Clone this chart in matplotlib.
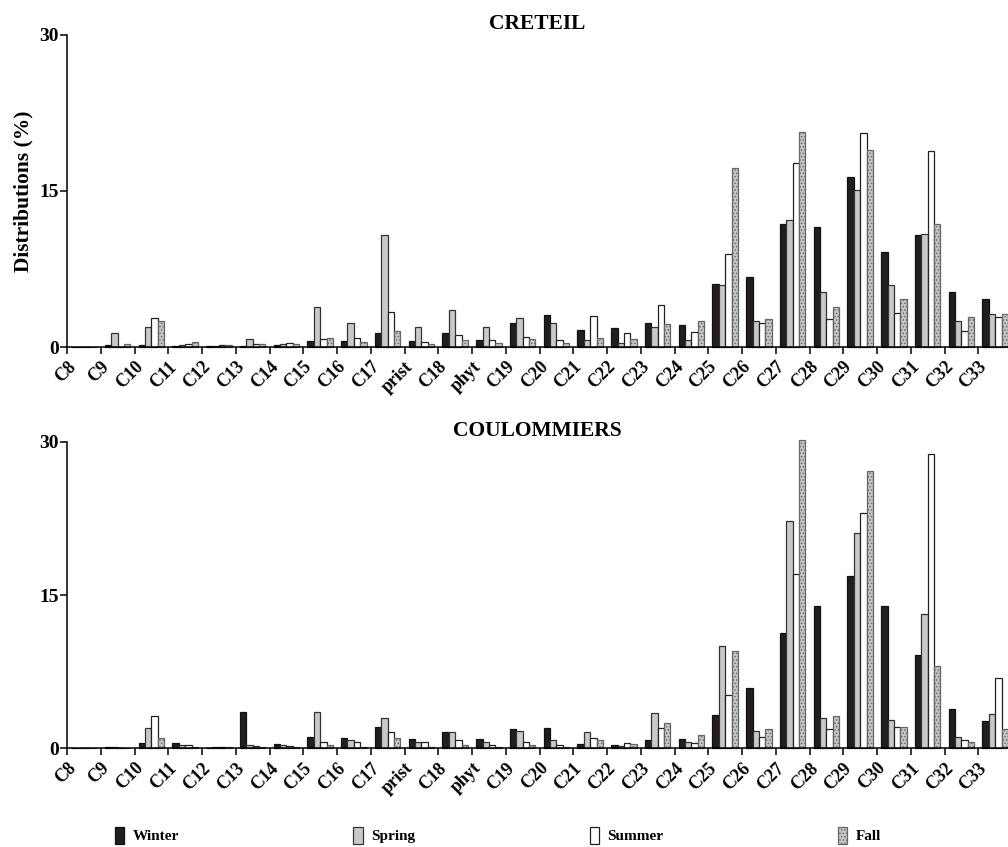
import matplotlib
matplotlib.use('Agg')
import matplotlib.pyplot as plt
from matplotlib.patches import Patch
import numpy as np

plt.rcParams['font.family'] = ['Liberation Serif', 'DejaVu Serif']
plt.rcParams['font.weight'] = 'bold'
plt.rcParams['hatch.linewidth'] = 0.6

categories = ['C8', 'C9', 'C10', 'C11', 'C12', 'C13', 'C14', 'C15', 'C16', 'C17',
              'prist', 'C18', 'phyt', 'C19', 'C20', 'C21', 'C22', 'C23', 'C24', 'C25',
              'C26', 'C27', 'C28', 'C29', 'C30', 'C31', 'C32', 'C33']
seasons = ['Winter', 'Spring', 'Summer', 'Fall']

# CRETEIL
creteil_winter = [0, 0.2, 0.2, 0.1, 0.1, 0.1, 0.2, 0.6, 0.6, 1.3, 0.6, 1.3, 0.7, 2.35,
                  3.1, 1.6, 1.85, 2.35, 2.1, 6.05, 6.7, 11.8, 11.5, 16.3, 9.1, 10.8, 5.25, 4.6]
creteil_spring = [0, 1.3, 1.9, 0.2, 0.1, 0.8, 0.3, 3.8, 2.35, 10.8, 1.9, 3.6, 1.9, 2.75,
                  2.35, 0.65, 0.4, 1.95, 0.65, 5.95, 2.5, 12.25, 5.25, 15.1, 5.95, 10.9, 2.5, 3.2]
creteil_summer = [0, 0, 2.8, 0.3, 0.2, 0.3, 0.4, 0.8, 0.9, 3.4, 0.5, 1.2, 0.65, 1.0,
                  0.65, 3.0, 1.3, 4.05, 1.45, 8.95, 2.35, 17.7, 2.65, 20.6, 3.3, 18.8, 1.55, 2.85]
creteil_fall = [0, 0.3, 2.5, 0.5, 0.2, 0.3, 0.3, 0.9, 0.5, 1.5, 0.25, 0.7, 0.4, 0.8,
                0.4, 0.85, 0.8, 2.25, 2.5, 17.2, 2.65, 20.7, 3.8, 18.9, 4.6, 11.8, 2.9, 3.15]

# COULOMMIERS
coul_winter = [0, 0.15, 0.55, 0.5, 0.05, 3.6, 0.4, 1.15, 1.05, 2.1, 0.9, 1.6, 0.9, 1.85,
               1.95, 0.4, 0.33, 0.8, 0.9, 3.25, 5.95, 11.25, 13.9, 16.9, 13.9, 9.1, 3.8, 2.65]
coul_spring = [0, 0.15, 1.95, 0.33, 0.1, 0.3, 0.3, 3.6, 0.8, 3.0, 0.65, 1.55, 0.65, 1.7,
               0.8, 1.55, 0.25, 3.5, 0.6, 10.0, 1.65, 22.2, 3.0, 21.1, 2.75, 13.1, 1.1, 3.35]
coul_summer = [0, 0, 3.2, 0.3, 0.1, 0.2, 0.2, 0.65, 0.65, 1.55, 0.6, 0.8, 0.33, 0.65,
               0.33, 1.0, 0.5, 1.95, 0.5, 5.2, 1.1, 17.1, 1.85, 23.0, 2.05, 28.8, 0.8, 6.85]
coul_fall = [0, 0, 1.0, 0.15, 0.1, 0.15, 0.15, 0.3, 0.15, 1.05, 0.15, 0.3, 0.15, 0.3,
             0.15, 0.8, 0.4, 2.5, 1.3, 9.55, 1.9, 30.2, 3.2, 27.1, 2.05, 8.1, 0.65, 1.9]

styles = [dict(facecolor='#221e1f', edgecolor='#111111'),
          dict(facecolor='#c9c9c9', edgecolor='#333333'),
          dict(facecolor='white', edgecolor='#222222'),
          dict(facecolor='#c4c4c4', edgecolor='#666666', hatch='.....')]


def draw_panel(ax, series, title):
    x = np.arange(len(categories))
    bw = 0.19
    for j, vals in enumerate(series):
        ax.bar(x + 0.12 + bw * (j + 0.5), vals, width=bw, linewidth=0.9,
               clip_on=False, **styles[j])
    ax.set_xlim(0, 27.88)
    ax.set_ylim(0, 30)
    ax.set_yticks([0, 15, 30])
    ax.set_xticks(x)
    ax.set_xticklabels(categories, rotation=45, ha='right', va='top',
                       rotation_mode='anchor', fontsize=13, fontweight='bold')
    for lab in ax.get_yticklabels():
        lab.set_fontsize(14)
        lab.set_fontweight('bold')
    ax.tick_params(axis='both', direction='out', length=5, width=1.1, pad=3)
    ax.tick_params(axis='y', pad=1)
    ax.spines['top'].set_visible(False)
    ax.spines['right'].set_visible(False)
    ax.spines['left'].set_linewidth(1.1)
    ax.spines['bottom'].set_linewidth(1.1)
    ax.set_title(title, fontsize=15.5, fontweight='bold', pad=4)


fig = plt.figure(figsize=(10.08, 8.47), dpi=100)
ax1 = fig.add_axes([0.0665, 0.5903, 0.9335, 0.3684])
ax2 = fig.add_axes([0.0665, 0.1165, 0.9335, 0.362])

draw_panel(ax1, [creteil_winter, creteil_spring, creteil_summer, creteil_fall], 'CRETEIL')
draw_panel(ax2, [coul_winter, coul_spring, coul_summer, coul_fall], 'COULOMMIERS')
ax1.set_ylabel('Distributions (%)', fontsize=15.5, fontweight='bold', labelpad=4)

handles = [Patch(linewidth=0.9, **s) for s in styles]
fig.legend(handles, seasons, loc='lower left', ncol=4, mode='expand', frameon=False,
           bbox_to_anchor=(0.114, 0.004, 0.76, 0.03), borderpad=0, borderaxespad=0,
           handlelength=0.6, handleheight=1.3, handletextpad=0.55,
           prop={'size': 11, 'weight': 'bold'})

fig.savefig('out.png', dpi=100)
